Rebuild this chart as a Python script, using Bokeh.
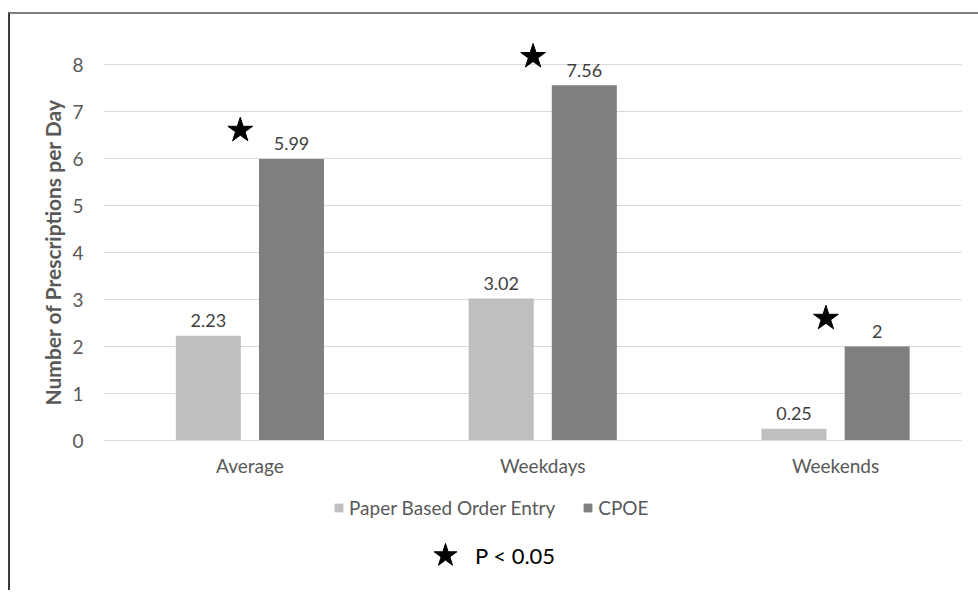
from bokeh.plotting import figure
from bokeh.models import Range1d, FixedTicker, ColumnDataSource, Legend, LegendItem, Title
from bokeh.core.properties import value
from bokeh.embed import file_html
from bokeh.resources import INLINE

# ---- data ----
categories = ["Average", "Weekdays", "Weekends"]
series_names = ["Paper Based Order Entry", "CPOE"]
paper_values = [2.23, 3.02, 0.25]
cpoe_values = [5.99, 7.56, 2.0]
paper_labels = ["2.23", "3.02", "0.25"]
cpoe_labels = ["5.99", "7.56", "2"]
star_values = [6.6, 8.17, 2.6]
y_ticks = [0, 1, 2, 3, 4, 5, 6, 7, 8]
note_text = "P < 0.05"
y_title = "Number of Prescriptions per Day"

# ---- style ----
FONT = "Lato"
TXT = "#595959"
PAPER_COLOR = "#bfbfbf"
CPOE_COLOR = "#7f7f7f"
GRID = "#d9d9d9"
OFF = 0.142
BW = 0.222
STAR_OFF = -0.033
PX = 47.0  # pixels per unit on y

idx = list(range(len(categories)))
paper_src = ColumnDataSource(dict(x=[i - OFF for i in idx], top=paper_values, lab=paper_labels))
cpoe_src = ColumnDataSource(dict(x=[i + OFF for i in idx], top=cpoe_values, lab=cpoe_labels))
star_src = ColumnDataSource(dict(x=[i + STAR_OFF for i in idx], y=star_values))

p = figure(width=968, height=584, output_backend="svg", toolbar_location=None,
           x_range=Range1d(-0.5, 2.43), y_range=Range1d(-150 / PX, 400 / PX),
           frame_width=858, frame_height=550,
           min_border_left=93, min_border_right=17, min_border_top=26, min_border_bottom=0)
p.styles = {"border-top": "2px solid #7f7f7f", "border-left": "2px solid #3a3a3a",
            "margin-top": "12px", "margin-left": "8px"}
p.outline_line_color = None
p.background_fill_color = "white"
p.border_fill_color = "white"

r_paper = p.vbar(x="x", top="top", width=BW, source=paper_src, fill_color=PAPER_COLOR, line_color=None)
r_cpoe = p.vbar(x="x", top="top", width=BW, source=cpoe_src, fill_color=CPOE_COLOR, line_color=None)

for src in (paper_src, cpoe_src):
    p.text(x="x", y="top", text="lab", source=src, text_align="center", text_baseline="alphabetic",
           y_offset=-15, text_font=value(FONT), text_font_size="18px", text_color="#404040")

r_star = p.scatter(x="x", y="y", source=star_src, marker="star", size=26,
                   fill_color="black", line_color="black")

# axes
p.xaxis.fixed_location = 0
p.xaxis.ticker = FixedTicker(ticks=idx)
p.xaxis.major_label_overrides = {i: c for i, c in zip(idx, categories)}
p.xaxis.major_tick_line_color = None
p.xaxis.minor_tick_line_color = None
p.xaxis.axis_line_color = GRID
p.xaxis.major_label_text_font = FONT
p.xaxis.major_label_text_font_size = "19px"
p.xaxis.major_label_text_color = TXT
p.xaxis.major_label_standoff = 7

p.yaxis.ticker = FixedTicker(ticks=y_ticks)
p.yaxis.major_tick_line_color = None
p.yaxis.minor_tick_line_color = None
p.yaxis.axis_line_color = None
p.yaxis.major_label_text_font = FONT
p.yaxis.major_label_text_font_size = "19px"
p.yaxis.major_label_text_color = TXT
p.yaxis.major_label_standoff = 14

ytitle = Title(text=y_title, align="left", offset=185, standoff=10,
               text_font=FONT, text_font_size="21px", text_font_style="bold", text_color=TXT)
p.add_layout(ytitle, "left")

p.xgrid.grid_line_color = None
p.ygrid.grid_line_color = GRID
p.ygrid.grid_line_width = 1

legend = Legend(items=[LegendItem(label=series_names[0], renderers=[r_paper]),
                       LegendItem(label=series_names[1], renderers=[r_cpoe])],
                location=(230, 71), orientation="horizontal",
                border_line_color=None, background_fill_alpha=0,
                padding=0, margin=0, spacing=27, label_standoff=5,
                glyph_width=11, glyph_height=11, label_height=18,
                label_text_font=FONT, label_text_font_size="19px", label_text_color=TXT)
p.add_layout(legend, "center")

note = Legend(items=[LegendItem(label=note_text, renderers=[r_star])],
              location=(312, 5), orientation="horizontal",
              border_line_color=None, background_fill_alpha=0,
              padding=0, margin=0, label_standoff=0,
              glyph_width=60, glyph_height=60,
              label_text_font=FONT, label_text_font_size="22px", label_text_color="black")
p.add_layout(note, "center")

open("out.html", "w").write(file_html(p, INLINE))
